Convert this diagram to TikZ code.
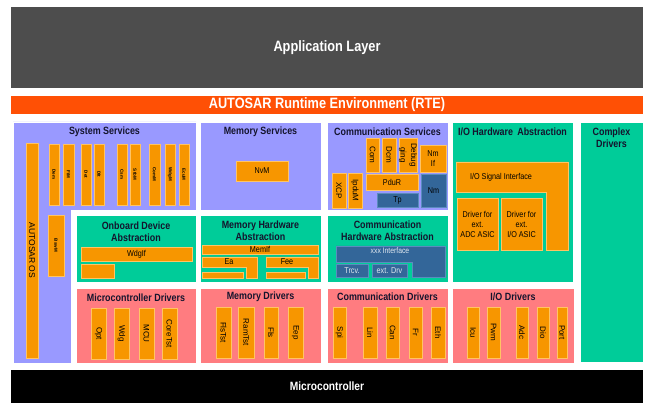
\documentclass[tikz,border=0pt]{standalone}
\usepackage{fontspec}
\setmainfont{Liberation Sans}
\newfontfamily\narrowfont[FakeStretch=0.85]{Liberation Sans}
\usetikzlibrary{shadows}
\definecolor{applc}{RGB}{77,77,77}
\definecolor{rtec}{RGB}{255,80,5}
\definecolor{svcc}{RGB}{153,153,255}
\definecolor{hwac}{RGB}{0,204,153}
\definecolor{drvc}{RGB}{255,124,128}
\definecolor{orc}{RGB}{247,150,0}
\definecolor{oredge}{RGB}{255,196,100}
\definecolor{blc}{RGB}{51,102,153}
\definecolor{bledge}{RGB}{90,140,190}
\definecolor{shc}{RGB}{130,85,30}
\definecolor{ttlc}{RGB}{20,20,45}
\newcommand\mkbox[7]{%
  \pgfmathsetmacro\bw{#5-#3}\pgfmathsetmacro\bh{#6-#4}%
  \pgfmathsetmacro\bx{(#3+#5)/2}\pgfmathsetmacro\by{(#4+#6)/2}%
  \node[#1, minimum width=\bw pt, minimum height=\bh pt, inner sep=0pt] (#2) at (\bx,\by) {#7};}
\newcommand\vt[1]{\rotatebox{-90}{#1}}
\tikzset{
  panel/.style={draw=white, line width=0.8pt},
  svc/.style={panel, fill=svcc},
  hwa/.style={panel, fill=hwac},
  drv/.style={panel, fill=drvc},
  shad/.style={drop shadow={shadow xshift=1pt, shadow yshift=-1pt, fill=shc, opacity=0.8}},
  obox/.style={fill=orc, draw=oredge, line width=0.4pt, shad, font=\narrowfont\fontsize{8.5}{10}\selectfont, align=center},
  bbox/.style={fill=blc, draw=bledge, line width=0.4pt, shad, font=\narrowfont\fontsize{8.5}{10}\selectfont, align=center},
  vbox/.style={obox, font=\fontsize{8}{9}\selectfont},
  tiny/.style={obox, font=\bfseries\fontsize{4.5}{5}\selectfont},
  ttl/.style={font=\narrowfont\bfseries\fontsize{10.5}{12}\selectfont, text=ttlc, align=center},
  lbl/.style={font=\narrowfont\fontsize{8.5}{10}\selectfont, align=center},
  ltxt/.style={text=white!85!blc},
  big/.style={font=\narrowfont\bfseries\fontsize{15}{18}\selectfont, text=white},
}
\begin{document}
\begin{tikzpicture}[x=1pt,y=-1pt]
\useasboundingbox (0,0) rectangle (648,403);
% top layers
\mkbox{fill=applc}{app}{11}{7}{643}{88}{}
\node[big] (apptxt) at (app) {Application Layer};
\mkbox{fill=rtec}{rte}{11}{96}{643}{114}{}
\node[big] (rtetxt) at (rte) {AUTOSAR Runtime Environment (RTE)};
\mkbox{fill=black}{mcu}{11}{370}{643}{403}{}
\node[big, font=\narrowfont\bfseries\fontsize{12}{14}\selectfont] (mcutxt) at (mcu) {Microcontroller};
% panels
\draw[svc] (13,122) -- (196,122) -- (196,210) -- (71,210) -- (71,363) -- (13,363) -- cycle;
\coordinate (syssvc) at (104.5,132);
\mkbox{svc}{memsvc}{200}{122}{321}{210}{}
\mkbox{svc}{comsvc}{327}{122}{448}{210}{}
\mkbox{hwa}{iohwa}{452}{122}{573}{282}{}
\mkbox{hwa}{cdd}{580}{122}{643}{362}{}
\mkbox{hwa}{obda}{76}{215}{196}{282}{}
\mkbox{hwa}{memhwa}{200}{215}{321}{282}{}
\mkbox{hwa}{comhwa}{327}{215}{448}{282}{}
\mkbox{drv}{mcudrv}{76}{288}{196}{363}{}
\mkbox{drv}{memdrv}{200}{288}{321}{363}{}
\mkbox{drv}{comdrv}{327}{288}{448}{363}{}
\mkbox{drv}{iodrv}{452}{288}{574}{363}{}
% titles
\node[ttl] (t1) at (syssvc) {System Services};
\node[ttl] (t2) at (260.5,132) {Memory Services};
\node[ttl] (t3) at (387.5,132) {Communication Services};
\node[ttl] (t4) at (512.5,132) {I/O Hardware\, Abstraction};
\node[ttl] (t5) at (611.5,138) {Complex\\Drivers};
\node[ttl] (t6) at (136,232) {Onboard Device\\Abstraction};
\node[ttl] (t7) at (260.5,231) {Memory Hardware\\Abstraction};
\node[ttl] (t8) at (387.5,231) {Communication\\Hardware Abstraction};
\node[ttl] (t9) at (136,298) {Microcontroller Drivers};
\node[ttl] (t10) at (260.5,297) {Memory Drivers};
\node[ttl] (t11) at (387.5,297) {Communication Drivers};
\node[ttl] (t12) at (513,297) {I/O Drivers};
% system services
\mkbox{vbox}{os}{26}{143}{38}{358}{\vt{\fontsize{8.5}{9}\selectfont AUTOSAR OS}}
\mkbox{tiny}{dem}{49}{144}{59}{205}{\vt{Dem}}
\mkbox{tiny}{fim}{63}{144}{74}{205}{\vt{FiM}}
\mkbox{tiny}{det}{81}{144}{91}{205}{\vt{Det}}
\mkbox{tiny}{dlt}{94}{144}{104}{205}{\vt{Dlt}}
\mkbox{tiny}{csm}{117}{144}{127}{205}{\vt{Csm}}
\mkbox{tiny}{stbm}{130}{144}{140}{205}{\vt{StbM}}
\mkbox{tiny}{comm}{149}{144}{160}{205}{\vt{ComM}}
\mkbox{tiny}{wdgm}{165}{144}{175}{205}{\vt{WdgM}}
\mkbox{tiny}{ecum}{179}{144}{189}{205}{\vt{EcuM}}
\mkbox{tiny}{bswm}{48}{215}{64}{276}{\vt{BswM}}
% onboard
\mkbox{obox}{wdgif}{81}{247}{192}{261}{WdgIf}
\mkbox{obox}{obx}{81}{264}{114}{278}{}
% mcu drivers
\mkbox{vbox}{opt}{91}{308}{106}{359}{\vt{Opt}}
\mkbox{vbox}{wdg}{114}{308}{129}{359}{\vt{Wdg}}
\mkbox{vbox}{mcud}{139}{308}{154}{359}{\vt{MCU}}
\mkbox{vbox}{coretst}{162}{308}{177}{359}{\vt{CoreTst}}
% memory
\mkbox{obox}{nvm}{236}{161}{288}{181}{NvM}
\mkbox{obox}{memif}{202}{245}{318}{254}{}
\node[lbl] (memiftxt) at (memif) {MemIf};
\draw[obox] (202,257) -- (257,257) -- (257,278) -- (246,278) -- (246,267) -- (202,267) -- cycle;
\node[lbl] (ea) at (229,262) {Ea};
\mkbox{obox}{eab}{202}{272}{243}{278}{}
\draw[obox] (266,257) -- (318,257) -- (318,278) -- (308,278) -- (308,267) -- (266,267) -- cycle;
\node[lbl] (fee) at (287,262) {Fee};
\mkbox{obox}{feeb}{266}{272}{305}{278}{}
% communication services
\mkbox{vbox}{com}{366}{138}{379}{172}{\vt{Com}}
\mkbox{vbox}{dcm}{382}{138}{396}{172}{\vt{Dcm}}
\mkbox{vbox}{dbg}{399}{138}{417}{172}{\vt{\shortstack{Debug\\ging}}}
\mkbox{obox}{nmif}{420}{145}{446}{172}{Nm\\If}
\mkbox{obox}{pdur}{366}{174}{418}{190}{PduR}
\mkbox{bbox}{tp}{377}{193}{418}{207}{Tp}
\mkbox{bbox}{nm}{421}{174}{446}{207}{Nm}
\mkbox{vbox}{xcp}{332}{173}{346}{208}{\vt{XCP}}
\mkbox{vbox}{ipdum}{348}{173}{362}{208}{\vt{IpduM}}
% communication hw abstraction
\draw[bbox] (336,246) -- (445,246) -- (445,277) -- (412,277) -- (412,262) -- (336,262) -- cycle;
\node[lbl, ltxt, font=\narrowfont\fontsize{8}{9}\selectfont] (xxxif) at (390,251) {xxx Interface};
\mkbox{bbox, ltxt}{trcv}{336}{264}{368}{277}{Trcv.}
\mkbox{bbox, ltxt}{extdrv}{372}{264}{407}{277}{ext. Drv}
% io hw abstraction
\draw[obox] (456,162) -- (568,162) -- (568,250) -- (546,250) -- (546,192) -- (456,192) -- cycle;
\node[lbl] (iosig) at (501,177) {I/O Signal Interface};
\mkbox{obox}{adcasic}{457}{198}{498}{250}{Driver for\\ext.\\ADC ASIC}
\mkbox{obox}{ioasic}{501}{198}{542}{250}{Driver for\\ext.\\I/O ASIC}
% memory drivers
\mkbox{vbox}{flstst}{216}{307}{231}{358}{\vt{FlsTst}}
\mkbox{vbox}{ramtst}{238}{307}{254}{358}{\vt{RamTst}}
\mkbox{vbox}{fls}{264}{307}{278}{358}{\vt{Fls}}
\mkbox{vbox}{eep}{288}{307}{303}{358}{\vt{Eep}}
% communication drivers
\mkbox{vbox}{spi}{333}{307}{346}{358}{\vt{Spi}}
\mkbox{vbox}{lin}{363}{307}{377}{358}{\vt{Lin}}
\mkbox{vbox}{can}{386}{307}{399}{358}{\vt{Can}}
\mkbox{vbox}{fr}{409}{307}{422}{358}{\vt{Fr}}
\mkbox{vbox}{eth}{431}{307}{445}{358}{\vt{Eth}}
% io drivers
\mkbox{vbox}{icu}{467}{307}{479}{358}{\vt{Icu}}
\mkbox{vbox}{pwm}{487}{307}{500}{358}{\vt{Pwm}}
\mkbox{vbox}{adc}{516}{307}{528}{358}{\vt{Adc}}
\mkbox{vbox}{dio}{537}{307}{549}{358}{\vt{Dio}}
\mkbox{vbox}{port}{557}{307}{567}{358}{\vt{Port}}
\end{tikzpicture}
\end{document}
